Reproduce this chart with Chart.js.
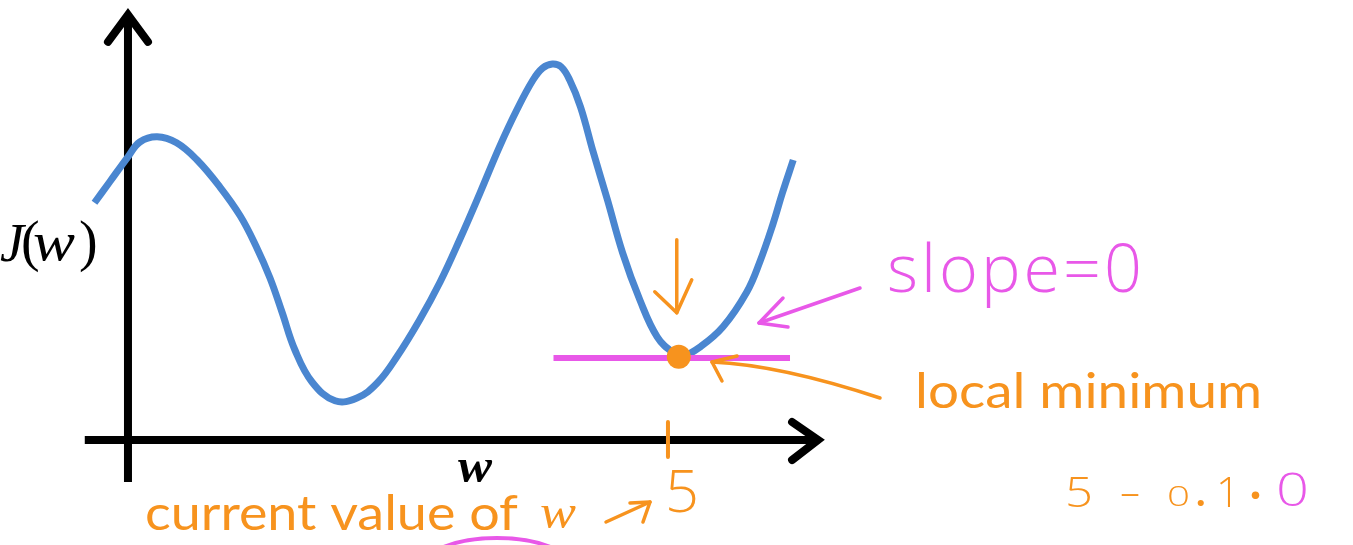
<!DOCTYPE html>
<html>
<head>
<meta charset="utf-8">
<title>J(w) - local minimum</title>
<script src="https://cdn.jsdelivr.net/npm/chart.js@4.4.1/dist/chart.umd.min.js"></script>
<style>
  html, body { margin: 0; padding: 0; background: #fff; }
  #wrap { position: relative; width: 1353px; height: 545px; }
</style>
</head>
<body>
<div id="wrap"><canvas id="grafico"></canvas></div>
<script>
// ---- data (w on the x axis, J(w) on the y axis) ----
const wValues = [-0.31, -0.17, 0.00, 0.11, 0.27, 0.45, 0.64, 0.85, 1.04, 1.185, 1.315, 1.426, 1.546, 1.704, 1.917,
                 2.12, 2.31, 2.49, 2.70, 2.89, 3.07, 3.26, 3.44, 3.60, 3.75, 3.84, 3.93, 4.01, 4.09, 4.19,
                 4.31, 4.44, 4.58, 4.74, 4.90, 5.05, 5.14, 5.30, 5.51, 5.73, 5.85, 5.97, 6.06, 6.16];
const jValues = [5.93, 6.45, 7.08, 7.45, 7.58, 7.43, 7.00, 6.33, 5.60, 4.85, 4.05, 3.20, 2.25, 1.45, 0.98,
                 1.05, 1.43, 2.08, 3.00, 3.95, 5.00, 6.18, 7.33, 8.25, 9.00, 9.30, 9.40, 9.33, 9.00, 8.33,
                 7.18, 6.00, 4.68, 3.50, 2.58, 2.18, 2.10, 2.33, 2.83, 3.70, 4.45, 5.38, 6.18, 7.00];

// current value of w (orange dot) and the flat tangent through it
const currentW = [5.10];
const currentJ = [2.08];
const tangentW = [3.94, 6.13];
const tangentJ = [2.05, 2.05];

// the single marked tick on the w axis
const tickValues = [5];
const tickLabels = ['5'];

// visible window and the drawn axes (in data units)
const wRange = [-1.185, 11.343];
const jRange = [-2.625, 11];
const wAxisSpan = [-0.40, 6.39];
const jAxisSpan = [-1.05, 10.63];

const AZUL = '#4a86d0';
const LARANJA = '#f7931e';
const ROSA = '#e858e8';

// text stretched to a given width
function texto(ctx, str, x, y, largura, fonte, cor) {
    ctx.save();
    ctx.font = fonte;
    ctx.fillStyle = cor;
    ctx.textAlign = 'left';
    ctx.textBaseline = 'alphabetic';
    const m = ctx.measureText(str).width;
    const sx = largura ? largura / m : 1;
    ctx.translate(x, y);
    ctx.scale(sx, 1);
    ctx.fillText(str, 0, 0);
    ctx.restore();
}

function traco(ctx, pts, cor, largura) {
    ctx.save();
    ctx.strokeStyle = cor;
    ctx.lineWidth = largura;
    ctx.lineCap = 'round';
    ctx.lineJoin = 'round';
    ctx.beginPath();
    ctx.moveTo(pts[0][0], pts[0][1]);
    for (let i = 1; i < pts.length; i++) ctx.lineTo(pts[i][0], pts[i][1]);
    ctx.stroke();
    ctx.restore();
}

const desenhoPlugin = {
    id: 'desenho',
    beforeDatasetsDraw(chart) {
        const { ctx, scales: { x, y } } = chart;
        const x0 = x.getPixelForValue(0);
        const y0 = y.getPixelForValue(0);
        const yTop = y.getPixelForValue(jAxisSpan[1]);
        const yBot = y.getPixelForValue(jAxisSpan[0]);
        const xLeft = x.getPixelForValue(wAxisSpan[0]);
        const xRight = x.getPixelForValue(wAxisSpan[1]);

        ctx.save();
        ctx.strokeStyle = '#000';
        ctx.lineWidth = 8;
        ctx.lineCap = 'butt';
        ctx.beginPath();
        ctx.moveTo(x0, yBot); ctx.lineTo(x0, yTop + 3);
        ctx.moveTo(xLeft, y0); ctx.lineTo(xRight - 3, y0);
        ctx.stroke();
        // arrow heads
        ctx.lineCap = 'round';
        ctx.lineJoin = 'miter';
        ctx.beginPath();
        ctx.moveTo(x0 - 20, yTop + 27); ctx.lineTo(x0, yTop); ctx.lineTo(x0 + 20, yTop + 27);
        ctx.moveTo(xRight - 26, y0 - 18); ctx.lineTo(xRight, y0); ctx.lineTo(xRight - 26, y0 + 20);
        ctx.stroke();
        ctx.restore();
    },
    afterDatasetsDraw(chart) {
        const { ctx, scales: { x, y } } = chart;
        const y0 = y.getPixelForValue(0);
        const mao = '300 58px "Open Sans", Lato, sans-serif';

        // orange tick mark and its label
        tickValues.forEach((v, i) => {
            const tx = x.getPixelForValue(v);
            traco(ctx, [[tx, y0 - 18], [tx, y0 + 17]], LARANJA, 4);
            texto(ctx, tickLabels[i], tx - 3, y0 + 72, 34, mao, LARANJA);
        });

        // axis labels
        const ser = '"Liberation Serif", "DejaVu Serif", serif';
        texto(ctx, 'J', 0, 261, 0, 'italic 54px ' + ser, '#000');
        texto(ctx, '(', 21, 260, 0, '56px ' + ser, '#000');
        texto(ctx, 'w', 33, 260, 42, 'italic 54px ' + ser, '#000');
        texto(ctx, ')', 79, 260, 0, '56px ' + ser, '#000');
        texto(ctx, 'w', 458, 482, 34, 'italic bold 48px ' + ser, '#000');

        // "current value of w ->"
        texto(ctx, 'current value of', 145, 530, 373, '48px Lato', LARANJA);
        texto(ctx, 'w', 540, 528, 36, 'italic 48px ' + ser, LARANJA);
        traco(ctx, [[606, 522], [650, 502]], LARANJA, 3.5);
        traco(ctx, [[630, 503], [650, 502], [643, 522]], LARANJA, 3.5);

        // pink underline arc at the bottom
        ctx.save();
        ctx.strokeStyle = ROSA;
        ctx.lineWidth = 4;
        ctx.beginPath();
        ctx.ellipse(497, 568, 75, 30, 0, Math.PI, Math.PI * 2);
        ctx.stroke();
        ctx.restore();

        // down arrow above the current point
        const dx = x.getPixelForValue(currentW[0]);
        const dy = y.getPixelForValue(currentJ[0]);
        traco(ctx, [[dx - 2, dy - 117], [dx - 2, dy - 44]], LARANJA, 3.5);
        traco(ctx, [[dx - 24, dy - 65], [dx - 2, dy - 44], [dx + 13, dy - 77]], LARANJA, 3.5);

        // slope = 0 with its arrow
        ctx.save();
        ctx.letterSpacing = '3px';
        texto(ctx, 'slope=0', 887, 292, 258, '300 66px "Open Sans", Lato, sans-serif', ROSA);
        ctx.restore();
        traco(ctx, [[860, 288], [759, 323]], ROSA, 3.5);
        traco(ctx, [[783, 298], [759, 323], [788, 327]], ROSA, 3.5);

        // local minimum with its curved arrow
        texto(ctx, 'local minimum', 915, 408, 347, '48px Lato', LARANJA);
        ctx.save();
        ctx.strokeStyle = LARANJA;
        ctx.lineWidth = 3.5;
        ctx.lineCap = 'round';
        ctx.beginPath();
        ctx.moveTo(880, 398);
        ctx.quadraticCurveTo(780, 365, 712, 362);
        ctx.stroke();
        ctx.restore();
        traco(ctx, [[737, 356], [712, 362], [722, 381]], LARANJA, 3.5);

        // 5 - 0.1 . 0
        const leve = '300 42px "Open Sans", Lato, sans-serif';
        texto(ctx, '5', 1065, 507, 28, leve, LARANJA);
        texto(ctx, '-', 1119, 507, 22, leve, LARANJA);
        texto(ctx, '0', 1167, 506, 23, '300 28px "Open Sans", Lato, sans-serif', LARANJA);
        texto(ctx, '.', 1196, 506, 0, 'bold 40px Lato', LARANJA);
        texto(ctx, '1', 1216, 507, 0, leve, LARANJA);
        texto(ctx, '\u00b7', 1250, 507, 0, 'bold 40px Lato', LARANJA);
        texto(ctx, '0', 1276, 506, 33, '300 46px "Open Sans", Lato, sans-serif', ROSA);
    }
};

const pontosCurva = wValues.map((w, i) => ({ x: w, y: jValues[i] }));
const pontosTangente = tangentW.map((w, i) => ({ x: w, y: tangentJ[i] }));
const pontoAtual = currentW.map((w, i) => ({ x: w, y: currentJ[i] }));

new Chart(document.getElementById('grafico'), {
    type: 'line',
    data: {
        datasets: [
            {
                label: 'current w',
                data: pontoAtual,
                showLine: false,
                pointRadius: 12,
                pointBackgroundColor: LARANJA,
                pointBorderWidth: 0,
                order: 0
            },
            {
                label: 'slope = 0',
                data: pontosTangente,
                borderColor: ROSA,
                borderWidth: 6,
                pointRadius: 0,
                order: 1
            },
            {
                label: 'J(w)',
                data: pontosCurva,
                borderColor: AZUL,
                borderWidth: 7,
                pointRadius: 0,
                tension: 0.4,
                borderCapStyle: 'butt',
                order: 2
            }
        ]
    },
    options: {
        responsive: true,
        maintainAspectRatio: false,
        animation: false,
        events: [],
        layout: { padding: 0, autoPadding: false },
        plugins: { legend: { display: false }, tooltip: { enabled: false } },
        scales: {
            x: { type: 'linear', min: wRange[0], max: wRange[1], display: false },
            y: { type: 'linear', min: jRange[0], max: jRange[1], display: false }
        }
    },
    plugins: [desenhoPlugin]
});
</script>
</body>
</html>
